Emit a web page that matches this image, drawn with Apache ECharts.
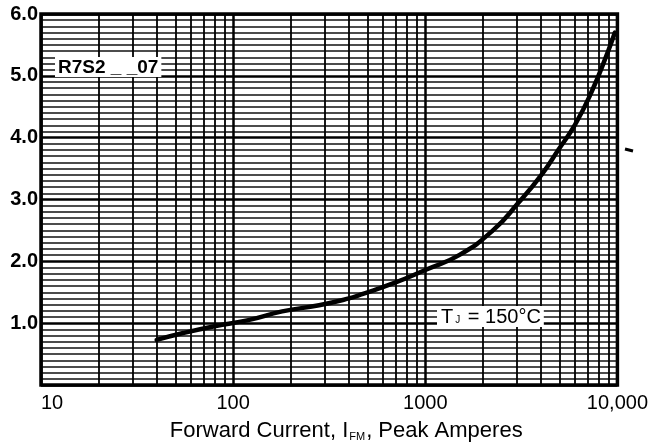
<!DOCTYPE html>
<html>
<head>
<meta charset="utf-8">
<script src="https://cdn.jsdelivr.net/npm/echarts@6/dist/echarts.min.js"></script>
<style>
html,body{margin:0;padding:0;background:#fff;}
#chart{width:651px;height:447px;}
</style>
</head>
<body>
<div id="chart"></div>
<script>
// forward current (A) vs peak forward voltage (V)
const current = [40, 55, 80, 120, 180, 280, 400, 460, 690, 1000, 1500, 2250, 3060, 4070, 4920, 6020, 7360, 8900, 9700];
const voltage = [0.73, 0.84, 0.95, 1.05, 1.19, 1.29, 1.40, 1.46, 1.65, 1.86, 2.10, 2.50, 2.95, 3.42, 3.80, 4.21, 4.75, 5.38, 5.70];

// log paper minor lines
const minorCurrents = [20, 30, 40, 50, 60, 70, 80, 90, 200, 300, 400, 500, 600, 700, 800, 900, 2000, 3000, 4000, 5000, 6000, 7000, 8000, 9000];

const xTickLabels = {10: "10", 100: "100", 1000: "1000", 10000: "10,000"};

const chart = echarts.init(document.getElementById("chart"));

const option = {
    backgroundColor: "#fff",
    animation: false,
    grid: {
        left: 41, right: 26, top: 14, bottom: 53,
        show: true, borderColor: "#000", borderWidth: 3.5
    },
    xAxis: {
        type: "log", logBase: 10, min: 10, max: 10000,
        name: "Forward Current, I{sub|FM}, Peak Amperes",
        nameLocation: "middle", nameGap: 35,
        nameTextStyle: {
            fontFamily: "Liberation Sans", fontSize: 22, color: "#000",
            padding: [0, 0, 0, 34],
            rich: { sub: { fontFamily: "Liberation Sans", fontSize: 11, color: "#000", verticalAlign: "bottom", padding: [7, 1, 0, 1] } }
        },
        axisLine: { show: false },
        axisTick: { show: false },
        axisLabel: {
            margin: 8, fontFamily: "Liberation Sans", fontSize: 20, color: "#000",
            alignMinLabel: "left",
            formatter: v => xTickLabels[Math.round(v)] || ""
        },
        splitLine: { show: true, lineStyle: { color: "#000", width: 2.5 } }
    },
    yAxis: {
        type: "value", min: 0, max: 6, interval: 1,
        axisLine: { show: false },
        axisTick: { show: false },
        axisLabel: {
            margin: 3, fontFamily: "Liberation Sans", fontWeight: "bold", fontSize: 20, color: "#000",
            formatter: v => v === 0 ? "" : v.toFixed(1)
        },
        splitLine: { show: true, lineStyle: { color: "#000", width: 2.5 } },
        minorTick: { show: false, splitNumber: 10 },
        minorSplitLine: { show: true, lineStyle: { color: "#111", width: 1.7 } }
    },
    series: [
        {
            type: "line",
            data: [],
            silent: true,
            markLine: {
                silent: true,
                symbol: "none",
                label: { show: false },
                lineStyle: { color: "#000", width: 1.8, type: "solid" },
                data: minorCurrents.map(c => ({ xAxis: c }))
            }
        },
        {
            type: "line",
            data: current.map((c, i) => [c, voltage[i]]),
            smooth: true,
            symbol: "none",
            z: 10,
            lineStyle: { color: "#000", width: 4.5, cap: "round" }
        }
    ],
    graphic: [
        {
            type: "text", left: 55, top: 57, z: 20,
            style: {
                text: "R7S2 _ _07", font: "bold 19px 'Liberation Sans'", fill: "#000",
                backgroundColor: "#fff", padding: [1, 3, 0, 3]
            }
        },
        {
            type: "text", left: 437, top: 306, z: 20,
            style: {
                text: "T{s|J} = 150°C", font: "20px 'Liberation Sans'", fill: "#000",
                backgroundColor: "#fff", padding: [1, 3, 0, 4],
                rich: { s: { font: "10px 'Liberation Sans'", fill: "#000", padding: [6, 2, 0, 2] } }
            }
        },
        {
            type: "line", z: 20,
            shape: { x1: 625, y1: 149, x2: 633, y2: 151 },
            style: { stroke: "#000", lineWidth: 3 }
        }
    ]
};
chart.setOption(option);
</script>
</body>
</html>
